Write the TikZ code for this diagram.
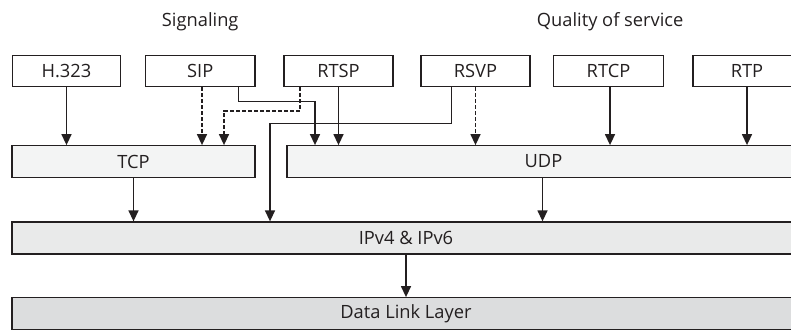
\documentclass[tikz,border=0pt]{standalone}
\usepackage{fontspec}
\setmainfont{Open Sans}
\usetikzlibrary{arrows.meta}
\definecolor{ln}{HTML}{231F20}
\definecolor{fa}{HTML}{F3F4F4}
\definecolor{fb}{HTML}{E9EAEA}
\definecolor{fc}{HTML}{DCDDDE}
\newlength\calw
\begin{document}
\settowidth\calw{\fontsize{10pt}{12pt}\selectfont Signaling}%
\pgfmathsetmacro\fsz{10*76.6/\calw}%
\begin{tikzpicture}[x=1pt,y=-1pt,
  box/.style={draw=ln, line width=1.3pt, minimum height=31.5pt, inner sep=0pt, font=\fontsize{\fsz pt}{\fsz pt}\selectfont, text=ln},
  lbl/.style={font=\fontsize{\fsz pt}{\fsz pt}\selectfont, text=ln, inner sep=0pt, anchor=base west},
  arr/.style={draw=ln, line width=1.4pt, -{Triangle[length=11pt,width=10pt]}},
  dsh/.style={arr, dash pattern=on 4pt off 2pt}]
\useasboundingbox (0,0) rectangle (791,330);
\clip (0,0) rectangle (791,330);
\node[lbl] (sig) at (161.7,26.7) {Signaling};
\node[lbl] (qos) at (536.7,26.7) {Quality of service};
\node[box, minimum width=108pt] (h323) at (66.5,71) {H.323};
\node[box, minimum width=109.5pt] (sip) at (200.25,71) {SIP};
\node[box, minimum width=109pt] (rtsp) at (338.5,71) {RTSP};
\node[box, minimum width=109pt] (rsvp) at (475.5,71) {RSVP};
\node[box, minimum width=110pt] (rtcp) at (608.5,71) {RTCP};
\node[box, minimum width=108pt] (rtp) at (747,71) {RTP};
\node[box, fill=fa, minimum width=243pt] (tcp) at (133.5,161.5) {TCP};
\node[box, fill=fa, minimum width=513pt] (udp) at (543.5,161.5) {UDP};
\node[box, fill=fb, minimum width=788pt, minimum height=32pt] (ip) at (406,238) {IPv4 \& IPv6};
\node[box, fill=fc, minimum width=788pt] (dl) at (406,313.5) {Data Link Layer};
% helper coordinates
\coordinate (xa) at (202,0);
\coordinate (xb) at (300,111);
\coordinate (xc) at (224,0);
\coordinate (xd) at (238.3,101.7);
\coordinate (xe) at (315,0);
\coordinate (xf) at (451.7,123.3);
\coordinate (xg) at (270,0);
\coordinate (xh) at (610,0);
\coordinate (xi) at (542.5,0);
% arrows
\draw[arr] (h323.south) -- (h323.south |- tcp.north);
\draw[dsh] (xa |- sip.south) -- (xa |- tcp.north);
\draw[dsh] (xb |- rtsp.south) -- (xb) -| (xc |- tcp.north);
\draw[arr] (xd |- sip.south) -- (xd) -| (xe |- udp.north);
\draw[arr] (rtsp.south) -- (rtsp.south |- udp.north);
\draw[arr] (xf |- rsvp.south) -- (xf) -| (xg |- ip.north);
\draw[dsh] (rsvp.south) -- (rsvp.south |- udp.north);
\draw[arr] (xh |- rtcp.south) -- (xh |- udp.north);
\draw[arr] (rtp.south) -- (rtp.south |- udp.north);
\draw[arr] (tcp.south) -- (tcp.south |- ip.north);
\draw[arr] (xi |- udp.south) -- (xi |- ip.north);
\draw[arr] (ip.south) -- (dl.north);
\end{tikzpicture}
\end{document}
